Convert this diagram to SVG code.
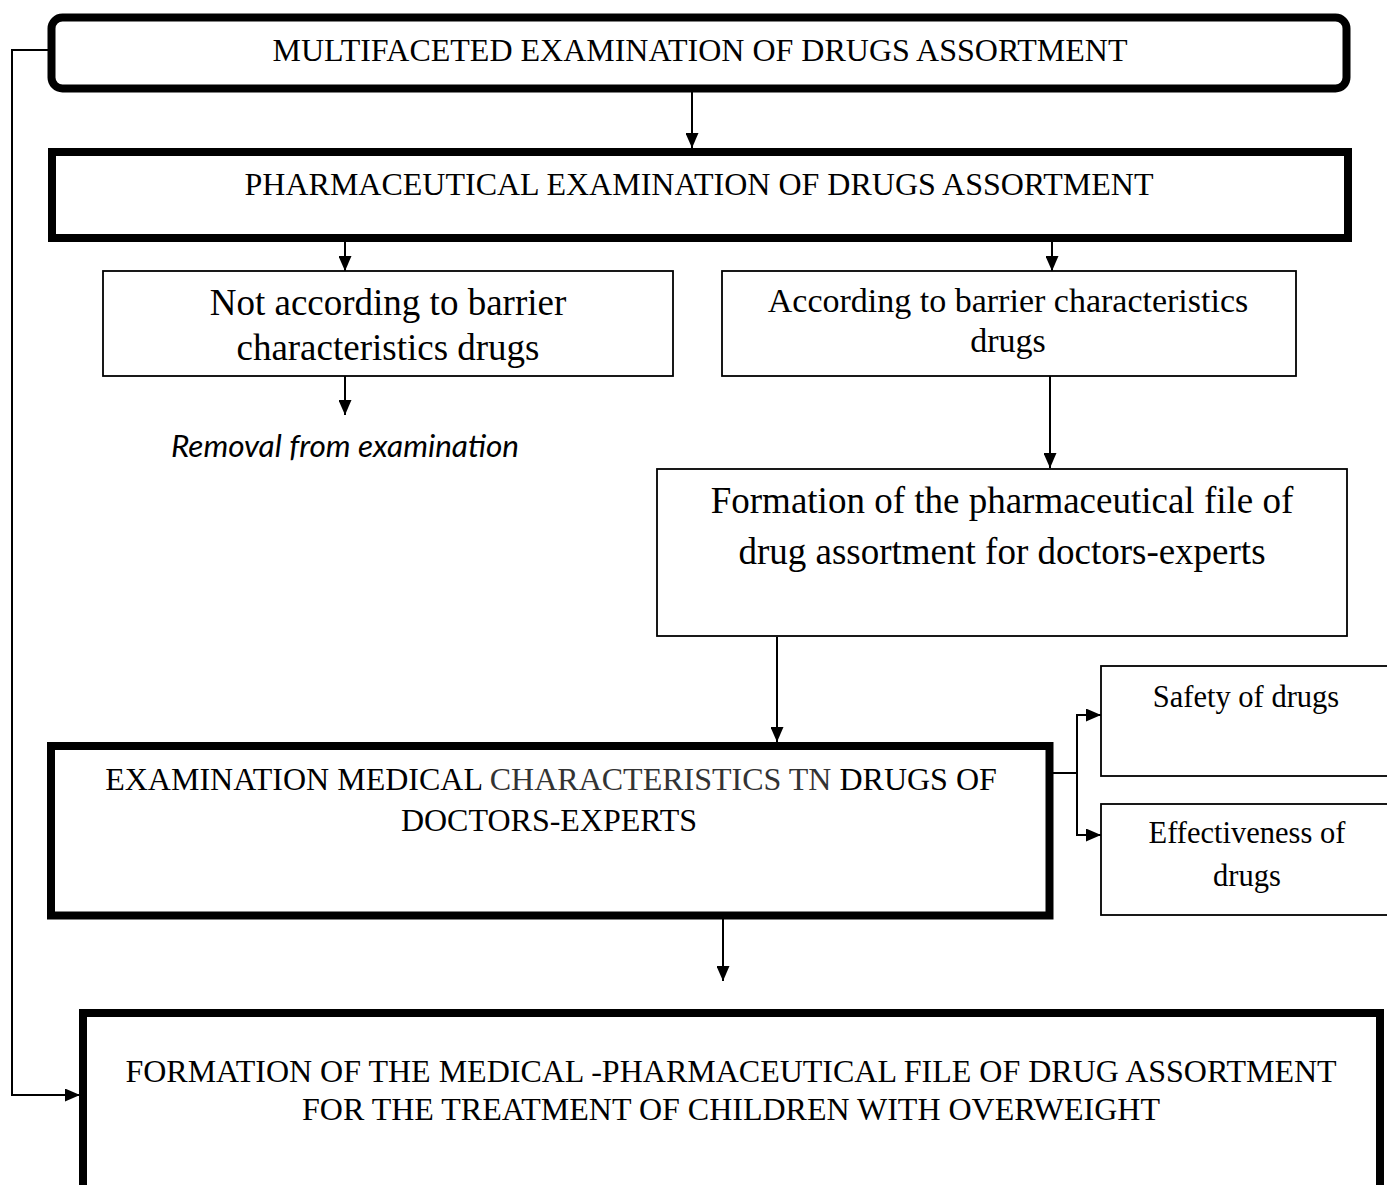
<svg xmlns="http://www.w3.org/2000/svg" width="1387" height="1185" viewBox="0 0 1387 1185">
<style>
  .serif { font-family: "Liberation Serif", "Times New Roman", serif; fill: #000; }
  .thick { fill: #fff; stroke: #000; stroke-width: 8; }
  .thin { fill: #fff; stroke: #000; stroke-width: 1.8; }
  .conn { fill: none; stroke: #000; stroke-width: 2; }
</style>
<defs>
  <marker id="arrow" markerUnits="userSpaceOnUse" markerWidth="15" markerHeight="13" refX="15" refY="6.5" orient="auto">
    <path d="M0,0 L15,6.5 L0,13 z" fill="#000"/>
  </marker>
</defs>
<rect width="1387" height="1185" fill="#fff"/>

<g id="connectors">
  <line class="conn" x1="692" y1="92" x2="692" y2="148" marker-end="url(#arrow)"/>
  <line class="conn" x1="345" y1="242" x2="345" y2="271" marker-end="url(#arrow)"/>
  <line class="conn" x1="1052" y1="242" x2="1052" y2="271" marker-end="url(#arrow)"/>
  <line class="conn" x1="345" y1="376" x2="345" y2="415" marker-end="url(#arrow)"/>
  <line class="conn" x1="1050" y1="376" x2="1050" y2="468" marker-end="url(#arrow)"/>
  <line class="conn" x1="777" y1="637" x2="777" y2="742" marker-end="url(#arrow)"/>
  <line class="conn" x1="723" y1="919" x2="723" y2="981" marker-end="url(#arrow)"/>
  <polyline class="conn" points="1053,773 1077,773"/>
  <polyline class="conn" points="1077,715 1077,835"/>
  <line class="conn" x1="1076" y1="715" x2="1101" y2="715" marker-end="url(#arrow)"/>
  <line class="conn" x1="1076" y1="835" x2="1101" y2="835" marker-end="url(#arrow)"/>
  <polyline class="conn" points="48,50 12,50 12,1095 80,1095" marker-end="url(#arrow)"/>
</g>

<g id="node-multifaceted">
  <rect class="thick" x="51.5" y="17.5" width="1295" height="71" rx="11" ry="11" stroke-width="7"/>
  <text class="serif" x="700" y="61" font-size="32" text-anchor="middle">MULTIFACETED EXAMINATION OF DRUGS ASSORTMENT</text>
</g>

<g id="node-pharmaceutical">
  <rect class="thick" x="52" y="152" width="1296" height="86"/>
  <text class="serif" x="699" y="195" font-size="32" text-anchor="middle">PHARMACEUTICAL EXAMINATION OF DRUGS ASSORTMENT</text>
</g>

<g id="node-not-according">
  <rect class="thin" x="103" y="271" width="570" height="105"/>
  <text class="serif" x="388" y="315" font-size="37" text-anchor="middle">Not according to barrier</text>
  <text class="serif" x="388" y="360" font-size="37" text-anchor="middle">characteristics drugs</text>
</g>

<g id="node-removal">
  <text x="345" y="457" font-family="Lato, 'Open Sans', sans-serif" font-style="italic" font-size="31.5" text-anchor="middle" fill="#000">Removal from examination</text>
</g>

<g id="node-according">
  <rect class="thin" x="722" y="271" width="574" height="105"/>
  <text class="serif" x="1008" y="312" font-size="34" text-anchor="middle">According to barrier characteristics</text>
  <text class="serif" x="1008" y="352" font-size="34" text-anchor="middle">drugs</text>
</g>

<g id="node-pharm-file">
  <rect class="thin" x="657" y="469" width="690" height="167"/>
  <text class="serif" x="1002" y="513" font-size="37" text-anchor="middle">Formation of the pharmaceutical file of</text>
  <text class="serif" x="1002" y="564" font-size="37" text-anchor="middle">drug assortment for doctors-experts</text>
</g>

<g id="node-medical">
  <rect class="thick" x="51" y="746" width="998.5" height="169.5" stroke-width="7.5"/>
  <text class="serif" x="551" y="790" font-size="32" text-anchor="middle">EXAMINATION MEDICAL <tspan fill="#333">CHARACTERISTICS TN</tspan> DRUGS OF</text>
  <text class="serif" x="549" y="831" font-size="32" text-anchor="middle">DOCTORS-EXPERTS</text>
</g>

<g id="node-safety">
  <rect class="thin" x="1101" y="666" width="300" height="110"/>
  <text class="serif" x="1246" y="707" font-size="30.5" text-anchor="middle">Safety of drugs</text>
</g>

<g id="node-effectiveness">
  <rect class="thin" x="1101" y="804" width="300" height="111"/>
  <text class="serif" x="1247" y="843" font-size="30.5" text-anchor="middle">Effectiveness of</text>
  <text class="serif" x="1247" y="886" font-size="30.5" text-anchor="middle">drugs</text>
</g>

<g id="node-medical-pharm-file">
  <rect class="thick" x="83" y="1013" width="1297" height="200"/>
  <text class="serif" x="731" y="1082" font-size="32" text-anchor="middle">FORMATION OF THE MEDICAL -PHARMACEUTICAL FILE OF DRUG ASSORTMENT</text>
  <text class="serif" x="731" y="1120" font-size="32" text-anchor="middle">FOR THE TREATMENT OF CHILDREN WITH OVERWEIGHT</text>
</g>
</svg>
